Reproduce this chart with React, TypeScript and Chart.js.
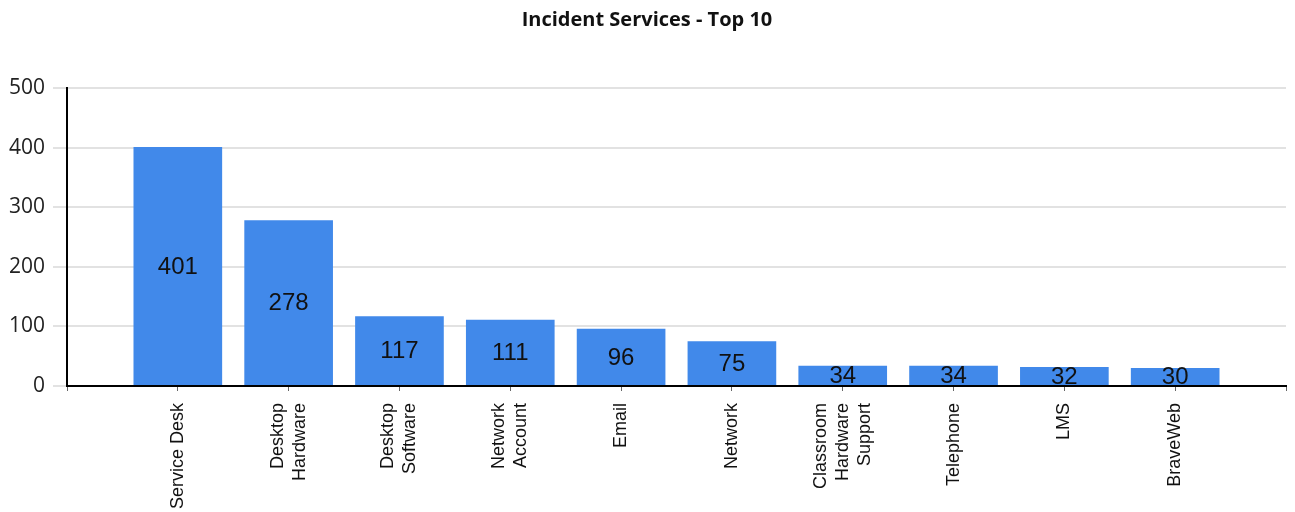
import React, { useEffect, useRef } from "react";
import { Chart, registerables } from "chart.js";

Chart.register(...registerables);

const TITLE = "Incident Services - Top 10";
const categories: string[][] = [
  ["Service Desk"],
  ["Desktop", "Hardware"],
  ["Desktop", "Software"],
  ["Network", "Account"],
  ["Email"],
  ["Network"],
  ["Classroom", "Hardware", "Support"],
  ["Telephone"],
  ["LMS"],
  ["BraveWeb"],
];
const values: number[] = [401, 278, 117, 111, 96, 75, 34, 34, 32, 30];
const yTicks: number[] = [0, 100, 200, 300, 400, 500];

const BAR_COLOR = "#4189EA";
const X_FONT = "18px 'Liberation Sans', Arial, sans-serif";
const X_LINE = 22;

const valueLabelPlugin = {
  id: "valueLabels",
  afterDatasetsDraw(chart: any) {
    const ctx = chart.ctx;
    const meta = chart.getDatasetMeta(0);
    const data = chart.data.datasets[0].data;
    ctx.save();
    ctx.font = "24px 'Liberation Sans', Arial, sans-serif";
    ctx.fillStyle = "#111";
    ctx.textAlign = "center";
    ctx.textBaseline = "middle";
    meta.data.forEach((bar: any, i: number) => {
      const v = data[i];
      if (v === null || v === undefined) return;
      const { x, y, base } = bar.getProps(["x", "y", "base"], true);
      ctx.fillText(String(v), x, (y + base) / 2 + 1);
    });
    ctx.restore();
  },
};

const xLabelPlugin = {
  id: "xLabels",
  afterDraw(chart: any) {
    const ctx = chart.ctx;
    const xs = chart.scales.x;
    const labels = chart.data.labels;
    ctx.save();
    ctx.font = X_FONT;
    ctx.fillStyle = "#111";
    ctx.textAlign = "right";
    ctx.textBaseline = "middle";
    const yStart = xs.top + 17;
    labels.forEach((lab: any, i: number) => {
      const lines: string[] = Array.isArray(lab) ? lab : [lab];
      if (!lines.length || lines.join("") === "") return;
      const cx = xs.getPixelForTick(i);
      const n = lines.length;
      lines.forEach((line, j) => {
        const lx = cx + (j - (n - 1) / 2) * X_LINE;
        ctx.save();
        ctx.translate(lx, yStart);
        ctx.rotate(-Math.PI / 2);
        ctx.fillText(line, 0, 0);
        ctx.restore();
      });
    });
    ctx.restore();
  },
};

export default function App() {
  const ref = useRef<HTMLCanvasElement | null>(null);
  useEffect(() => {
    if (!ref.current) return;
    const labels: any[] = ["", ...categories, ""];
    const data: (number | null)[] = [null, ...values, null];
    const chart = new Chart(ref.current, {
      type: "bar",
      data: {
        labels,
        datasets: [
          {
            data,
            backgroundColor: BAR_COLOR,
            borderWidth: 0,
            barPercentage: 1,
            categoryPercentage: 0.8,
          },
        ],
      },
      plugins: [valueLabelPlugin, xLabelPlugin],
      options: {
        responsive: false,
        animation: false,
        layout: { padding: { left: 0, right: 1, top: 0, bottom: 0 } },
        plugins: {
          legend: { display: false },
          tooltip: { enabled: false },
          title: {
            display: true,
            text: TITLE,
            color: "#111",
            font: { family: "'Open Sans', sans-serif", size: 20, weight: "bold" },
            padding: { top: 0, bottom: 56 },
          },
        },
        scales: {
          x: {
            offset: false,
            grid: {
              offset: false,
              drawOnChartArea: false,
              drawTicks: true,
              tickLength: 5,
              color: "#666",
            },
            border: { color: "#000", width: 2 },
            ticks: {
              display: false,
              autoSkip: false,
            },
            afterFit: (scale: any) => {
              scale.height = 126;
            },
          },
          y: {
            min: 0,
            max: 500,
            afterBuildTicks: (scale: any) => {
              scale.ticks = yTicks.map((v) => ({ value: v }));
            },
            grid: {
              color: "#e2e2e2",
              lineWidth: 2,
              tickLength: 14,
            },
            border: { color: "#000", width: 2 },
            ticks: {
              padding: 8,
              color: "#222",
              font: { family: "'Open Sans', sans-serif", size: 21 },
            },
            afterFit: (scale: any) => {
              scale.width = 59;
            },
          },
        },
      },
    });
    return () => chart.destroy();
  }, []);
  return <canvas ref={ref} width={1279} height={504} style={{ display: "block" }} />;
}
